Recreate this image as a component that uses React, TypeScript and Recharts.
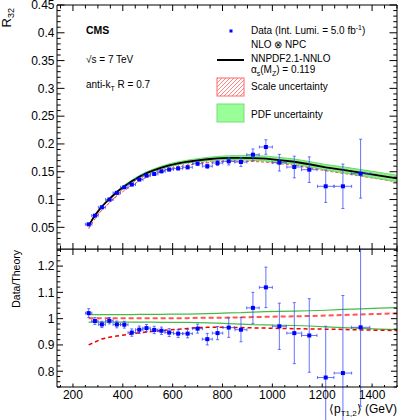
import React from "react";
import { ComposedChart, Line, Area, Scatter, XAxis, YAxis, ErrorBar } from "recharts";

// measured bins, <pT1,2> in GeV
const binCenters = [263, 288, 316, 346, 376, 406, 436, 466, 495, 526, 555, 586, 622, 660, 700, 739, 780, 825, 874, 922, 974, 1028, 1088, 1148, 1214, 1283, 1354];
const binHalfWidths = [13, 13, 14, 15, 15, 15, 15, 15, 15, 15, 15, 17, 18, 19, 20, 20, 21, 23, 24, 25, 26, 28, 30, 31, 33, 35, 37];
const r32Values = [0.0554, 0.071, 0.086, 0.1, 0.112, 0.122, 0.127, 0.136, 0.143, 0.146, 0.1507, 0.154, 0.156, 0.158, 0.1645, 0.16, 0.1657, 0.1687, 0.1675, 0.1807, 0.1945, 0.1663, 0.1585, 0.1537, 0.1238, 0.1238, 0.1465];
const r32Errors: (number | number[])[] = [0.001, 0.001, 0.0011, 0.0012, 0.0015, 0.0016, 0.0019, 0.002, 0.0021, 0.0022, 0.0022, 0.0024, 0.0025, 0.0027, 0.0029, 0.0038, 0.0044, 0.0065, 0.008, 0.0103, 0.013, 0.015, 0.0195, 0.023, 0.029, 0.04, [0.044, 0.062]];
const ratioValues = [1.021, 0.991, 0.978, 0.992, 0.978, 0.977, 0.947, 0.958, 0.964, 0.957, 0.954, 0.947, 0.943, 0.943, 0.962, 0.922, 0.945, 0.966, 0.958, 1.041, 1.119, 0.971, 0.945, 0.936, 0.776, 0.793, 0.967];
const ratioErrors: (number | number[])[] = [0.017, 0.013, 0.012, 0.012, 0.013, 0.013, 0.014, 0.014, 0.014, 0.014, 0.014, 0.015, 0.015, 0.016, 0.017, 0.022, 0.025, 0.037, 0.046, 0.059, 0.077, 0.088, 0.116, 0.14, 0.195, 0.295, [0.3, 0.42]];

// NLO x NPC prediction and relative uncertainties
const theoryPt = [263, 288, 316, 346, 376, 406, 436, 466, 495, 526, 555, 586, 622, 660, 700, 739, 780, 825, 874, 922, 974, 1028, 1088, 1148, 1214, 1283, 1354, 1430, 1500];
const theoryR32 = [0.053, 0.0715, 0.0875, 0.101, 0.1135, 0.124, 0.133, 0.141, 0.1475, 0.153, 0.1575, 0.1615, 0.165, 0.168, 0.1705, 0.1725, 0.174, 0.175, 0.175, 0.1745, 0.1735, 0.171, 0.168, 0.1635, 0.158, 0.1535, 0.1485, 0.143, 0.138];
const pdfUp = [1.015, 1.015, 1.015, 1.015, 1.015, 1.015, 1.015, 1.016, 1.016, 1.016, 1.016, 1.017, 1.017, 1.017, 1.018, 1.019, 1.02, 1.022, 1.023, 1.025, 1.027, 1.028, 1.029, 1.03, 1.032, 1.035, 1.037, 1.04, 1.042];
const pdfDown = [0.987, 0.987, 0.987, 0.987, 0.987, 0.987, 0.987, 0.987, 0.987, 0.987, 0.986, 0.986, 0.986, 0.986, 0.985, 0.984, 0.983, 0.981, 0.979, 0.977, 0.976, 0.975, 0.974, 0.972, 0.969, 0.966, 0.963, 0.96, 0.958];
const scaleUp = [1.002, 1.002, 1.002, 1.002, 1.002, 1.002, 1.002, 1.002, 1.002, 1.002, 1.002, 1.002, 1.002, 1.002, 1.003, 1.003, 1.003, 1.004, 1.005, 1.006, 1.007, 1.008, 1.009, 1.01, 1.012, 1.014, 1.016, 1.018, 1.02];
const scaleDown = [0.9, 0.911, 0.923, 0.929, 0.934, 0.938, 0.942, 0.946, 0.949, 0.952, 0.954, 0.957, 0.96, 0.963, 0.966, 0.967, 0.967, 0.967, 0.966, 0.965, 0.964, 0.963, 0.962, 0.961, 0.96, 0.959, 0.957, 0.956, 0.955];

const xMajorTicks = [200, 400, 600, 800, 1000, 1200, 1400];
const r32MajorTicks = [0.05, 0.1, 0.15, 0.2, 0.25, 0.3, 0.35, 0.4, 0.45];
const ratioMajorTicks = [0.8, 0.9, 1, 1.1, 1.2];

const xTicks = Array.from({ length: 28 }, (_, i) => 150 + 50 * i);
const r32Ticks = Array.from({ length: 44 }, (_, i) => +(0.02 + 0.01 * i).toFixed(2));
const ratioTicks = Array.from({ length: 27 }, (_, i) => +(0.74 + 0.02 * i).toFixed(2));

const topData = theoryPt.map((p, i) => ({
  p,
  theory: theoryR32[i],
  pdf: [theoryR32[i] * pdfDown[i], theoryR32[i] * pdfUp[i]],
  scale: [theoryR32[i] * scaleDown[i], theoryR32[i] * scaleUp[i]],
}));
const ratioData = theoryPt.map((p, i) => ({
  p,
  pdfUp: pdfUp[i],
  pdfDown: pdfDown[i],
  scaleUp: scaleUp[i],
  scaleDown: scaleDown[i],
}));
const r32Points = binCenters.map((p, i) => ({ p, v: r32Values[i], ex: binHalfWidths[i], ey: r32Errors[i] }));
const ratioPoints = binCenters.map((p, i) => ({ p, v: ratioValues[i], ex: binHalfWidths[i], ey: ratioErrors[i] }));

const FONT = "'Liberation Sans', Arial, Helvetica, sans-serif";
const isMajor = (v: number, majors: number[]) => majors.some((m) => Math.abs(m - v) < 1e-6);

const xTick = (dir: number, major: number, minor: number, label: boolean) => (props: any) => {
  const { x, y, payload } = props;
  const big = isMajor(payload.value, xMajorTicks);
  return (
    <g>
      <line x1={x} x2={x} y1={y} y2={y + dir * (big ? major : minor)} stroke="#000" strokeWidth={1} />
      {label && big && (
        <text x={x} y={y + 11.5} textAnchor="middle" fontSize={12} fontFamily={FONT} fill="#000">
          {payload.value}
        </text>
      )}
    </g>
  );
};

const yTick = (majors: number[], dir: number, major: number, minor: number, label: boolean) => (props: any) => {
  const { x, y, payload } = props;
  const big = isMajor(payload.value, majors);
  return (
    <g>
      <line x1={x} x2={x + dir * (big ? major : minor)} y1={y} y2={y} stroke="#000" strokeWidth={1} />
      {label && big && (
        <text x={x - 2.5} y={y} dy="0.36em" textAnchor="end" fontSize={12} fontFamily={FONT} fill="#000">
          {String(payload.value)}
        </text>
      )}
    </g>
  );
};

const Square = (props: any) => (
  <rect x={props.cx - 2} y={props.cy - 2} width={4} height={4} fill="#0000ff" />
);

const axisCommon = { tickSize: 0, tickMargin: 0, tickLine: false, interval: 0 as const, allowDataOverflow: true, axisLine: { stroke: "#000" } };

const App = () => {
  return (
    <div style={{ position: "absolute", left: 0, top: 0, width: 399, height: 420, fontFamily: FONT, background: "#fff" }}>
      <div style={{ position: "absolute", left: 0, top: 0 }}>
        <ComposedChart width={399} height={250} data={topData} margin={{ top: 5, right: 2, bottom: 0, left: 0 }} style={{ overflow: "visible" }}>
          <XAxis dataKey="p" type="number" domain={[136, 1500]} ticks={xTicks} height={1} tick={xTick(-1, 6, 3.5, false)} {...axisCommon} />
          <XAxis xAxisId="top" dataKey="p" type="number" orientation="top" mirror domain={[136, 1500]} ticks={xTicks} height={1} tick={xTick(1, 6, 3.5, false)} {...axisCommon} />
          <YAxis type="number" domain={[0.011, 0.45]} ticks={r32Ticks} width={57} tick={yTick(r32MajorTicks, 1, 7.5, 3.7, true)} {...axisCommon} />
          <YAxis yAxisId="right" type="number" orientation="right" mirror domain={[0.011, 0.45]} ticks={r32Ticks} width={1} tick={yTick(r32MajorTicks, -1, 7.5, 3.7, false)} {...axisCommon} />
          <Area dataKey="scale" type="linear" fill="url(#hatch)" fillOpacity={1} stroke="#ff4444" strokeWidth={1} strokeDasharray="3 2" dot={false} activeDot={false} isAnimationActive={false} />
          <Area dataKey="pdf" type="linear" fill="#88ee88" fillOpacity={0.9} stroke="#66dd66" strokeWidth={1} dot={false} activeDot={false} isAnimationActive={false} />
          <Line dataKey="theory" type="linear" stroke="#000" strokeWidth={1.8} dot={false} activeDot={false} isAnimationActive={false} />
          <Scatter data={r32Points} dataKey="v" shape={Square} isAnimationActive={false}>
            <ErrorBar dataKey="ex" direction="x" width={1.5} stroke="#3344ff" strokeOpacity={0.75} strokeWidth={1} />
            <ErrorBar dataKey="ey" direction="y" width={1.5} stroke="#3344ff" strokeOpacity={0.75} strokeWidth={1} />
          </Scatter>
        </ComposedChart>
      </div>
      <div style={{ position: "absolute", left: 0, top: 249 }}>
        <ComposedChart width={399} height={171} data={ratioData} margin={{ top: 0, right: 2, bottom: 0, left: 0 }}>
          <XAxis dataKey="p" type="number" domain={[136, 1500]} ticks={xTicks} height={33} tick={xTick(-1, 3.5, 2, true)} {...axisCommon} />
          <XAxis xAxisId="top" dataKey="p" type="number" orientation="top" mirror domain={[136, 1500]} ticks={xTicks} height={1} tick={xTick(1, 6, 3, false)} {...axisCommon} />
          <YAxis type="number" domain={[0.74, 1.265]} ticks={ratioTicks} width={57} tick={yTick(ratioMajorTicks, 1, 6, 3.3, true)} {...axisCommon} />
          <YAxis yAxisId="right" type="number" orientation="right" mirror domain={[0.74, 1.265]} ticks={ratioTicks} width={1} tick={yTick(ratioMajorTicks, -1, 6, 3.3, false)} {...axisCommon} />
          <Line dataKey="pdfUp" type="linear" stroke="#44bb44" strokeWidth={1.2} dot={false} activeDot={false} isAnimationActive={false} />
          <Line dataKey="pdfDown" type="linear" stroke="#44bb44" strokeWidth={1.2} dot={false} activeDot={false} isAnimationActive={false} />
          <Line dataKey="scaleUp" type="linear" stroke="#ff5555" strokeWidth={2} strokeDasharray="5 3" dot={false} activeDot={false} isAnimationActive={false} />
          <Line dataKey="scaleDown" type="linear" stroke="#ee0000" strokeWidth={1.5} strokeDasharray="4 3" dot={false} activeDot={false} isAnimationActive={false} />
          <Scatter data={ratioPoints} dataKey="v" shape={Square} isAnimationActive={false}>
            <ErrorBar dataKey="ex" direction="x" width={1.5} stroke="#3344ff" strokeOpacity={0.75} strokeWidth={1} />
            <ErrorBar dataKey="ey" direction="y" width={1.5} stroke="#3344ff" strokeOpacity={0.75} strokeWidth={1} />
          </Scatter>
        </ComposedChart>
      </div>
      <svg width={399} height={420} style={{ position: "absolute", left: 0, top: 0, pointerEvents: "none" }} fontFamily={FONT}>
        <defs>
          <pattern id="hatch" patternUnits="userSpaceOnUse" width={4} height={4}>
            <path d="M-1,1 l2,-2 M0,4 l4,-4 M3,5 l2,-2" stroke="#ff6666" strokeWidth={0.8} />
          </pattern>
        </defs>
        <text transform="rotate(-90 11 8)" x={11} y={8} textAnchor="end" fontSize={13} fill="#000">
          R<tspan fontSize={9} dy={3}>32</tspan>
        </text>
        <text transform="rotate(-90 19.5 250)" x={19.5} y={250} textAnchor="end" fontSize={10.5} fill="#000">
          Data/Theory
        </text>
        <text x={397} y={412.5} textAnchor="end" fontSize={12} fill="#000">
          {"\u27e8p"}<tspan fontSize={8} dy={3}>T1,2</tspan><tspan dy={-3}>{"\u27e9 (GeV)"}</tspan>
        </text>
        <text x={86} y={33.5} fontSize={10.5} fontWeight="bold" fill="#000">CMS</text>
        <text x={86} y={62.5} fontSize={10} fill="#000">{"\u221as = 7 TeV"}</text>
        <text x={86} y={88} fontSize={10} fill="#000">
          anti-k<tspan fontSize={7} dy={2.5}>T</tspan><tspan dy={-2.5}> R = 0.7</tspan>
        </text>
        <rect x={229.5} y={29.5} width={3} height={3} fill="#0000ff" />
        <text x={251} y={34} fontSize={10} fill="#000">
          Data (Int. Lumi. = 5.0 fb<tspan fontSize={7} dy={-4}>-1</tspan><tspan dy={4}>)</tspan>
        </text>
        <line x1={217} x2={244} y1={60} y2={60} stroke="#000" strokeWidth={2} />
        <text x={251} y={48} fontSize={10} fill="#000">{"NLO \u2297 NPC"}</text>
        <text x={251} y={61.5} fontSize={10} fill="#000">NNPDF2.1-NNLO</text>
        <text x={251} y={73} fontSize={10} fill="#000">
          {"\u03b1"}<tspan fontSize={7} dy={2.5}>s</tspan><tspan dy={-2.5}>(M</tspan><tspan fontSize={7} dy={2.5}>Z</tspan><tspan dy={-2.5}>) = 0.119</tspan>
        </text>
        <rect x={217} y={78} width={27} height={18} fill="url(#hatch)" stroke="#ff6666" strokeWidth={1} />
        <text x={251} y={89.5} fontSize={10} fill="#000">Scale uncertainty</text>
        <rect x={217} y={104} width={27} height={18} fill="#99ff99" stroke="#77dd77" strokeWidth={1} />
        <text x={251} y={117.5} fontSize={10} fill="#000">PDF uncertainty</text>
      </svg>
    </div>
  );
};

export default App;
